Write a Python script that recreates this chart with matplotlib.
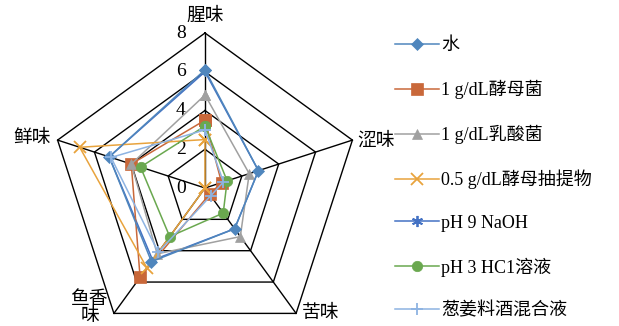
import numpy as np
import matplotlib.pyplot as plt

plt.rcParams['font.family'] = ['Liberation Serif', 'Noto Sans CJK SC']

# data
axes_labels = ['腥味', '涩味', '苦味', '鱼香\n味', '鲜味']
ticks = [0, 2, 4, 6, 8]
series_names = ['水', '1 g/dL酵母菌', '1 g/dL乳酸菌', '0.5 g/dL酵母抽提物',
                'pH 9 NaOH', 'pH 3 HC1溶液', '葱姜料酒混合液']
water = [6.1, 2.9, 2.6, 4.7, 5.2]
yeast = [3.5, 0.9, 0.4, 5.7, 4.0]
lactic = [4.8, 2.4, 3.1, 4.2, 4.0]
yeast_extract = [2.5, 0.0, 0.0, 5.1, 6.8]
naoh = [6.0, 2.9, 2.6, 4.6, 5.2]
hcl = [3.2, 1.2, 1.6, 3.1, 3.5]
mix = [3.0, 1.0, 0.5, 4.1, 5.1]

values = [water, yeast, lactic, yeast_extract, naoh, hcl, mix]
colors = ['#4F86BD', '#C9683A', '#A0A0A0', '#E8A33D', '#4472C4', '#6AA84F', '#8DB3E2']
markers = ['D', 's', '^', 'x', (6, 2, 0), 'o', '+']
msizes = [6.5, 8, 6.5, 8, 5, 7.5, 9]
zorders = [5, 4, 4, 4, 3, 4, 6]

n = len(axes_labels)
ang = np.pi / 2 - np.arange(n) * 2 * np.pi / n
ca, sa = np.cos(ang), np.sin(ang)

fig = plt.figure(figsize=(6.19, 3.26), dpi=100)
s = 155 / 8.0  # px per unit
cx, cy = 205, 188
ax = fig.add_axes([0, 0, 410 / 619, 1])
ax.set_xlim(-cx / s, (410 - cx) / s)
ax.set_ylim(-(326 - cy) / s, cy / s)
ax.axis('off')

rmax = ticks[-1]
# pentagon grid
for t in ticks[1:]:
    ax.plot(np.append(t * ca, t * ca[0]), np.append(t * sa, t * sa[0]),
            color='black', lw=1.0, zorder=1)
for i in range(n):
    ax.plot([0, rmax * ca[i]], [0, rmax * sa[i]], color='black', lw=1.0, zorder=1)

for t in ticks:
    ax.text(-1.0, t, str(t), ha='right', va='center', fontsize=14)

label_pos = [(0, 8.85, 'center'), (7.85, 2.45, 'left'), (5.94, -6.45, 'center'),
             (-5.94, -6.2, 'center'), (-8.93, 2.55, 'center')]
for lab, (x, y, ha) in zip(axes_labels, label_pos):
    ax.text(x, y, lab, ha=ha, va='center', fontsize=13.5, linespacing=0.95)

handles = []
for name, v, c, m, ms, z in zip(series_names, values, colors, markers, msizes, zorders):
    v = np.array(v)
    xs = np.append(v * ca, v[0] * ca[0])
    ys = np.append(v * sa, v[0] * sa[0])
    mew = 1.3 if m in ('x', '+') or isinstance(m, tuple) else 0.5
    h, = ax.plot(xs, ys, color=c, lw=1.1, marker=m, ms=ms, mew=mew,
                 mec=c, mfc=c, zorder=z, label=name)
    handles.append(h)

leg = fig.legend(handles=handles, loc='upper left', bbox_to_anchor=(388 / 619, 1 - 30 / 326),
                 frameon=False, fontsize=13, handlelength=2.4, handletextpad=0.15,
                 labelspacing=1.42, borderaxespad=0)
# asterisk in the legend is drawn larger than on the chart
leg.legend_handles[4].set_markersize(8)

fig.savefig('out.png', dpi=100)
